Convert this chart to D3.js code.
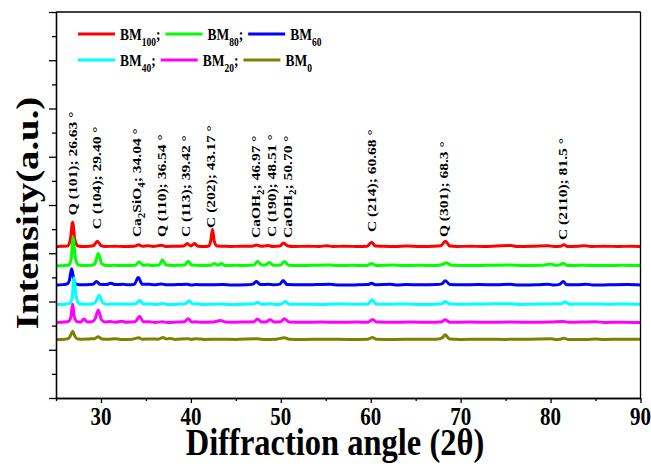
<!DOCTYPE html>
<html><head><meta charset="utf-8">
<script src="https://cdn.jsdelivr.net/npm/d3@7"></script>
<style>body{margin:0;background:#fff}svg{display:block}</style>
</head><body><svg id="c" width="651" height="466"></svg>
<script>
// ---------- data ----------
const seriesNames = ["BM100","BM80","BM60","BM40","BM20","BM0"];
const legendSubs = ["100","80","60","40","20","0"];
const seriesColors = ["#ff0000","#00ff00","#0000ff","#00ffff","#ff00ff","#808000"];
const seriesOffsets = [625,545,465,385,310,240];

const bm100 = [[25,3],[25.6,4],[26.3,5],[26.6,32],[26.85,104],[27.1,30],[27.45,5],[28,3],[28.7,4],[29.2,7],[29.6,25],[30,7],[30.5,3],[31.5,4],[32.5,3],[33.7,4],[34.2,10],[34.6,4],[35.3,6],[35.8,3],[36.7,8],[37.2,3],[38.3,4],[39.2,5],[39.6,15],[40,5],[40.4,15],[40.8,4],[41.5,3],[42,5],[42.2,25],[42.4,75],[42.6,25],[42.9,5],[43.6,4],[44.5,3],[45.5,4],[46.8,4],[47.3,9],[47.8,4],[48.6,7],[49.1,3],[49.9,5],[50.3,17],[50.8,5],[51.5,3],[53,4],[54.3,3],[55.1,6],[55.8,3],[57,4],[58.5,3],[59.6,4],[60.1,21],[60.5,5],[61.3,4],[62.8,3],[64,5],[65.5,3],[67,4],[67.8,6],[68.3,25],[68.8,5],[69.6,3],[71,4],[72.5,3],[74,5],[75.6,7],[76.3,3],[78,4],[79.7,6],[80.4,3],[81.1,4],[81.5,10],[81.9,3],[83,4],[83.8,6],[84.5,3],[86,4],[87.5,3],[89,4],[90,3]];
const bm80 = [[25,3],[26,4],[26.45,6],[26.7,36],[26.9,120],[27.15,36],[27.5,6],[28.2,4],[28.8,5],[29.3,10],[29.7,54],[30.1,12],[30.6,4],[31.5,5],[32.6,4],[33.8,5],[34.25,19],[34.7,5],[35.2,7],[35.7,4],[36.45,6],[36.85,27],[37.25,6],[38,4],[39.3,6],[39.7,22],[40.1,6],[41,4],[42.2,5],[42.6,12],[43,6],[43.4,12],[43.8,4],[45,5],[46,4],[47,6],[47.4,21],[47.9,6],[48.3,6],[48.7,17],[49.2,5],[50,6],[50.4,21],[50.9,5],[52,4],[53.5,5],[55.4,6],[56.3,4],[58,5],[59.6,4],[60.1,12],[60.6,4],[62.5,6],[63.5,4],[65.5,5],[67.2,4],[67.9,7],[68.4,16],[69,5],[71,4],[73,5],[75.5,6],[77,4],[79,5],[80,10],[80.5,5],[81,6],[81.4,14],[81.9,4],[83.5,5],[86,4],[88,5],[90,4]];
const bm60 = [[25,3],[25.8,5],[26.25,8],[26.5,25],[26.74,71],[27,22],[27.3,6],[28,4],[28.6,5],[29.1,6],[29.5,18],[29.9,6],[30.6,5],[31.1,11],[31.6,5],[32.5,6],[33,4],[33.7,6],[34.15,34],[34.6,6],[35.4,6],[36,4],[36.7,8],[37.3,4],[38.5,5],[39.6,6],[40.1,3],[40.5,5],[41.5,4],[43.6,5],[44.5,3],[46.2,4],[46.9,7],[47.3,18],[47.7,5],[48.7,6],[49.3,4],[49.9,7],[50.26,22],[50.7,5],[52.5,4],[54,5],[55.5,6],[56.5,3],[58.5,4],[59.7,5],[60.1,11],[60.5,4],[62.2,6],[63,3],[64,5],[65.5,4],[67.3,5],[67.9,8],[68.3,21],[68.8,5],[70,4],[72,5],[74,4],[75.5,6],[76.5,3],[78.5,4],[79.7,7],[80.4,3],[81,6],[81.4,18],[81.8,4],[83,4],[84,7],[84.8,3],[86.5,4],[88.5,5],[90,3]];
const bm40 = [[25,3],[26,4],[26.55,7],[26.8,34],[27,112],[27.25,34],[27.6,6],[28.3,4],[29,5],[29.4,12],[29.8,41],[30.2,10],[30.7,4],[31.8,5],[33,4],[33.9,6],[34.3,19],[34.7,5],[35.5,5],[36.2,3],[36.8,7],[37.3,3],[38.5,4],[39.4,6],[39.8,18],[40.2,5],[40.6,6],[41.2,3],[43.4,5],[44.3,3],[46,4],[47,5],[47.4,12],[47.9,4],[48.8,6],[49.4,3],[50.1,5],[50.5,15],[50.95,4],[52.5,4],[54.5,3],[56,5],[58,4],[59.7,5],[60.15,22],[60.6,5],[62,4],[64,5],[65.5,3],[67.2,4],[67.9,6],[68.3,15],[68.8,5],[70.5,4],[72.5,5],[75.5,6],[76.4,3],[78,4],[80,5],[81.2,6],[81.6,14],[82.1,4],[84,5],[86.5,4],[88.5,5],[90,4]];
const bm20 = [[25,3],[26,5],[26.4,8],[26.65,25],[26.85,79],[27.05,25],[27.35,6],[27.75,5],[28.1,17],[28.5,5],[29,6],[29.35,18],[29.7,54],[30.05,15],[30.5,5],[31,7],[31.6,4],[32.3,8],[32.8,4],[33.8,6],[34.3,29],[34.7,6],[35.4,6],[36,3],[36.8,6],[37.4,3],[38.5,5],[39.3,6],[39.7,19],[40.1,5],[40.5,6],[41.2,4],[42.5,5],[43.3,11],[43.9,5],[45,4],[46,5],[47,6],[47.4,17],[47.9,5],[48.4,6],[48.8,14],[49.3,5],[50,6],[50.4,19],[50.9,5],[52.5,4],[54.5,5],[56.5,4],[58.5,5],[59.7,4],[60.2,15],[60.7,5],[62.5,4],[64.5,5],[66.5,4],[67.8,5],[68.3,14],[68.8,4],[71,5],[73,4],[75.5,5],[78,4],[80,5],[81.4,7],[82,4],[85,6],[86,3],[88,4],[90,3]];
const bm0 = [[25,3],[26,4],[26.4,7],[26.6,18],[26.85,37],[27.1,16],[27.4,5],[28,4],[28.7,5],[29.3,6],[29.7,14],[30.1,5],[30.8,4],[31.5,6],[32.2,3],[33.5,4],[34.2,10],[34.6,4],[35.5,5],[36.4,4],[36.9,11],[37.3,5],[37.7,7],[38.2,3],[39.6,6],[40.1,3],[40.5,6],[41.5,3],[43,4],[45,3],[47.3,6],[48,3],[49.5,4],[50.4,10],[50.9,4],[52.5,3],[55,4],[57.5,3],[59.7,4],[60.2,11],[60.6,4],[62.5,3],[65,4],[67.3,4],[67.9,8],[68.3,22],[68.75,5],[70,3],[72.5,4],[75,3],[77.5,4],[79.97,6],[80.5,3],[81.1,4],[81.5,8],[81.9,3],[84,3],[85,5],[86,3],[88,4],[90,3]];
const seriesData = [bm100, bm80, bm60, bm40, bm20, bm0];

const xTickLabels = [30,40,50,60,70,80,90];
const xTitle = "Diffraction angle (2\u03B8)";
const yTitle = "Intensity(a.u.)";

// annotation label parts: [text, isSubscript]
const annoTexts = [
  [["Q (101); 26.63 \u00B0",0]],
  [["C (104); 29.40 \u00B0",0]],
  [["Ca",0],["2",1],["SiO",0],["4",1],["; 34.04 \u00B0",0]],
  [["Q (110); 36.54 \u00B0",0]],
  [["C (113); 39.42 \u00B0",0]],
  [["C (202); 43.17 \u00B0",0]],
  [["CaOH",0],["2",1],["; 46.97 \u00B0",0]],
  [["C (190); 48.51 \u00B0",0]],
  [["CaOH",0],["2",1],["; 50.70 \u00B0",0]],
  [["C (214); 60.68 \u00B0",0]],
  [["Q (301); 68.3 \u00B0",0]],
  [["C (2110); 81.5 \u00B0",0]]
];
// where each label sits (angle of label centre, intensity level of label start)
const annoAngles = [26.83,29.44,33.9,36.67,39.33,42.2,47.2,48.94,50.72,60.1,68.1,81.3];
const annoLevels = [758,700,667,667,667,705,663,667,663,688,667,655];

// ---------- layout ----------
const M = {left:56, right:640.5, top:12, bottom:398};
const FONT = "'Liberation Serif','Times New Roman',Times,serif";

const svg = d3.select("#c");
const x = d3.scaleLinear().domain([25,90]).range([M.left, M.right]);
const y = d3.scaleLinear().domain([0,1600]).range([M.bottom, M.top]);

// series
const line = d3.line().x(d=>x(d[0])).y(d=>y(d[1])).curve(d3.curveMonotoneX);
const gS = svg.append("g");
seriesData.forEach((s,i)=>{
  const off = seriesOffsets[i];
  gS.append("path")
    .datum(s.map(d=>[d[0], d[1]+off]))
    .attr("d", line)
    .attr("fill","none")
    .attr("stroke", seriesColors[i])
    .attr("stroke-width", 3)
    .attr("stroke-linejoin","round");
});

// axes
const axStyle = g => { g.selectAll("path,line").attr("stroke","#000").attr("stroke-width",1.3); g.selectAll("text").remove(); };
svg.append("g").attr("transform",`translate(0,${M.bottom})`)
  .call(d3.axisBottom(x).tickValues(d3.range(30,91,10)).tickSize(5).tickSizeOuter(0)).call(axStyle);
svg.append("g").attr("transform",`translate(0,${M.bottom})`)
  .call(d3.axisBottom(x).tickValues(d3.range(25,90,10)).tickSize(3).tickSizeOuter(0)).call(axStyle);
svg.append("g").attr("transform",`translate(${M.left},0)`)
  .call(d3.axisLeft(y).tickValues(d3.range(0,1601,200)).tickSize(7).tickSizeOuter(0)).call(axStyle);
svg.append("g").attr("transform",`translate(${M.left},0)`)
  .call(d3.axisLeft(y).tickValues(d3.range(100,1600,200)).tickSize(4).tickSizeOuter(0)).call(axStyle);
svg.append("line").attr("x1",M.left).attr("x2",M.right).attr("y1",M.top).attr("y2",M.top).attr("stroke","#000").attr("stroke-width",1.3);
svg.append("line").attr("x1",M.right).attr("x2",M.right).attr("y1",M.top).attr("y2",M.bottom).attr("stroke","#000").attr("stroke-width",1.3);

// x tick labels
xTickLabels.forEach(v=>{
  svg.append("text").attr("transform",`translate(${x(v)},425) scale(1,1.15)`)
    .attr("text-anchor","middle").attr("font-family",FONT).attr("font-weight","bold")
    .attr("font-size",21).text(v);
});
// axis titles
svg.append("text").attr("transform",`translate(335,455) scale(1,1.15)`)
  .attr("text-anchor","middle").attr("font-family",FONT).attr("font-weight","bold")
  .attr("font-size",32.5).text(xTitle);
svg.append("text").attr("transform",`translate(38,${(M.top+M.bottom)/2+8}) rotate(-90) scale(1.25,1)`)
  .attr("text-anchor","middle").attr("font-family",FONT).attr("font-weight","bold")
  .attr("font-size",31).text(yTitle);

// annotations
annoTexts.forEach((parts,i)=>{
  const t = svg.append("text")
    .attr("transform",`translate(${x(annoAngles[i])},${y(annoLevels[i])}) rotate(-90) scale(1.15,1)`)
    .attr("font-family",FONT).attr("font-weight","bold").attr("font-size",13.5);
  let shifted = false;
  parts.forEach((p,k)=>{
    const ts = t.append("tspan").text(p[0]);
    if (k === 0) ts.attr("dy","0.35em");
    if (p[1]) { ts.attr("font-size",9.5).attr("dy", 4); shifted = true; }
    else if (shifted) { ts.attr("dy", -4); shifted = false; }
  });
});

// legend
const legendRows = [[0,1,2],[3,4,5]];
const legendY = [34, 60];
legendRows.forEach((row,r)=>{
  let cx = 78;
  row.forEach((si,k)=>{
    const ly = legendY[r];
    svg.append("line").attr("x1",cx).attr("x2",cx+37).attr("y1",ly).attr("y2",ly)
      .attr("stroke",seriesColors[si]).attr("stroke-width",3);
    cx += 42;
    const t = svg.append("text").attr("transform",`translate(${cx},${ly+6}) scale(1,1.3)`)
      .attr("font-family",FONT).attr("font-weight","bold").attr("font-size",13.5);
    t.append("tspan").text("BM");
    t.append("tspan").attr("font-size",9.5).attr("dy",4.6).text(legendSubs[si]);
    if (k < row.length-1) t.append("tspan").attr("dy",-4.6).text(";");
    cx += t.node().getComputedTextLength() + 5;
  });
});
</script></body></html>
